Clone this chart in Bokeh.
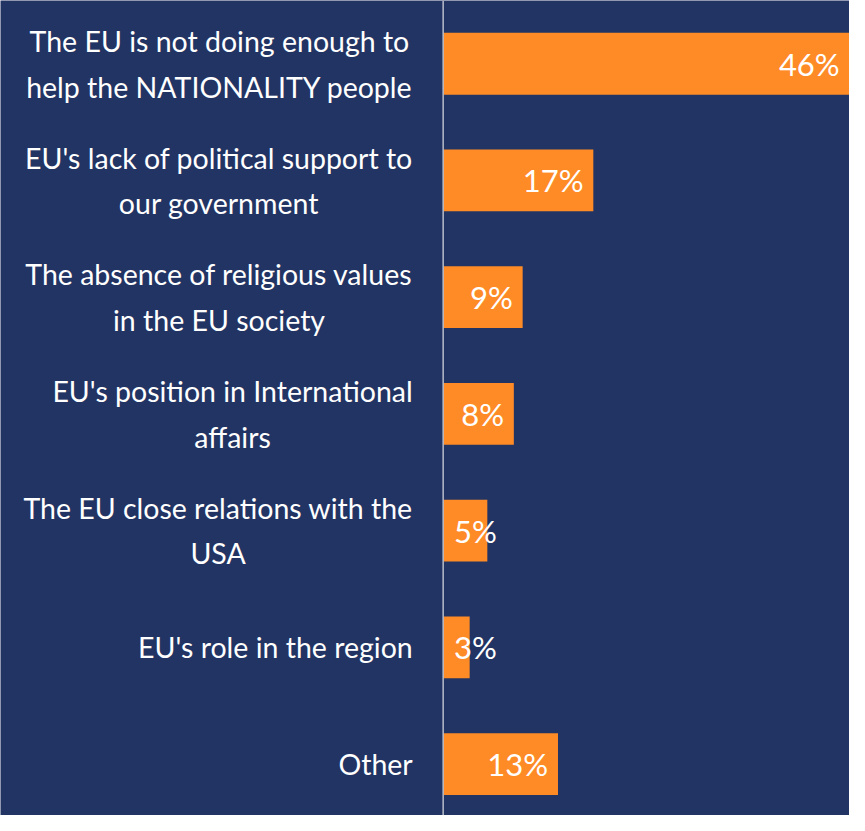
from bokeh.plotting import figure
from bokeh.models import Range1d, Span, ColumnDataSource
from bokeh.core.properties import value
from bokeh.embed import file_html
from bokeh.resources import INLINE

categories = [
    "The EU is not doing enough to\nhelp the NATIONALITY people",
    "EU's lack of political support to\nour government",
    "The absence of religious values\nin the EU society",
    "EU's position in International\naffairs",
    "The EU close relations with the\nUSA",
    "EU's role in the region",
    "Other",
]
values = [46, 17, 9, 8, 5, 3, 13]
value_labels = ["46%", "17%", "9%", "8%", "5%", "3%", "13%"]

BG = "#223463"
ORANGE = "#FF8B26"
S = 849 / 865

n = len(categories)
ypos = [n - 1 - i for i in range(n)]

W, H = 849, 815
p = figure(width=W, height=H, output_backend="svg", toolbar_location=None,
           x_range=Range1d(-451 / 9.0, 46), y_range=Range1d(-0.441, 6.542),
           min_border=0, outline_line_color=None,
           background_fill_color=BG, border_fill_color=BG)
p.axis.visible = False
p.grid.visible = False

src = ColumnDataSource(dict(y=ypos, v=values, cat=categories, lab=value_labels,
                            lx=[v if v >= 8 else 0 for v in values],
                            al=["right" if v >= 8 else "left" for v in values],
                            xo=[-10 * S if v >= 8 else 11 * S for v in values]))

p.hbar(y="y", right="v", left=0, height=63 / 119, source=src,
       fill_color=ORANGE, line_color=None)

p.add_layout(Span(location=0, dimension="height", line_color="#B8BCC8", line_width=1.5))

p.text(x=0, y="y", text="cat", source=src, x_offset=-31 * S,
       anchor="center_right", text_align="center", text_baseline="middle",
       text_color="white", text_font=value("Lato"), text_font_size="28.5px",
       text_line_height=1.34)

p.text(x="lx", y="y", text="lab", source=src, x_offset="xo",
       text_align="al", text_baseline="middle",
       text_color="white", text_font=value("Lato"), text_font_size="31px")

open("out.html", "w").write(file_html(p, INLINE))
